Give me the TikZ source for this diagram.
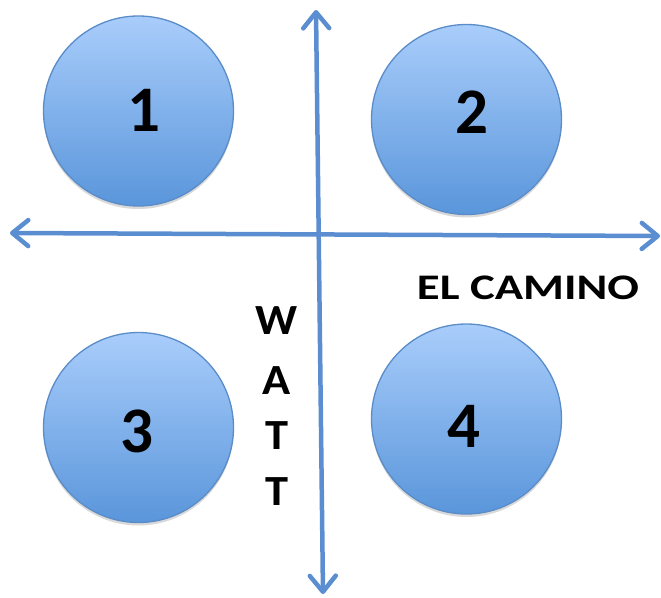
\documentclass[tikz,border=0pt]{standalone}
\usepackage{fontspec}
\setmainfont{Carlito}
\usetikzlibrary{arrows.meta,shadows}
\definecolor{axisblue}{HTML}{5B8ED0}
\definecolor{ringblue}{HTML}{5A8CC8}
\definecolor{topblue}{HTML}{A9CDFB}
\definecolor{botblue}{HTML}{5A96DB}
\tikzset{
  zone/.style={circle, draw=ringblue, line width=1.3pt, minimum size=190pt, inner sep=0pt,
    top color=topblue, bottom color=botblue,
    drop shadow={shadow xshift=0pt, shadow yshift=-3pt, opacity=0.25, fill=black!60}},
  digit/.style={font=\fontsize{65}{65}\selectfont\bfseries, text=black, inner sep=0pt},
  road/.style={draw=axisblue, line width=4.5pt, line cap=round,
    arrows={Straight Barb[length=16pt, width=26pt, line cap=round, line join=round]-Straight Barb[length=16pt, width=26pt, line cap=round, line join=round]}},
  streetname/.style={font=\fontsize{36}{36}\selectfont\bfseries, text=black, inner sep=0pt, xscale=1.3},
  wattletter/.style={font=\fontsize{43}{43}\selectfont\bfseries, text=black, inner sep=0pt, xscale=1.08}
}
\begin{document}
\begin{tikzpicture}[x=1pt,y=-1pt]
\useasboundingbox (0,0) rectangle (661,597);
\node[zone] (c1) at (138.5,111) {};
\node[zone] (c2) at (466.5,119.5) {};
\node[zone] (c3) at (138.5,427.5) {};
\node[zone] (c4) at (466.5,419) {};
\node[digit] (d1) at (144,110) {1};
\node[digit] (d2) at (472,112) {2};
\node[digit] (d3) at (136.5,431) {3};
\node[digit] (d4) at (464,426) {4};
\coordinate (top) at (316,10);
\coordinate (bottom) at (323,594);
\coordinate (left) at (10,233);
\coordinate (right) at (660,236);
\draw[road] (left) -- (right);
\draw[road] (top) -- (bottom);
\node[streetname] (elc) at (528,287.5) {EL CAMINO};
\node[wattletter] (w1) at (277,321) {W};
\node[wattletter] (w2) at (277,381) {A};
\node[wattletter] (w3) at (277,436) {T};
\node[wattletter] (w4) at (277,492) {T};
\end{tikzpicture}
\end{document}
